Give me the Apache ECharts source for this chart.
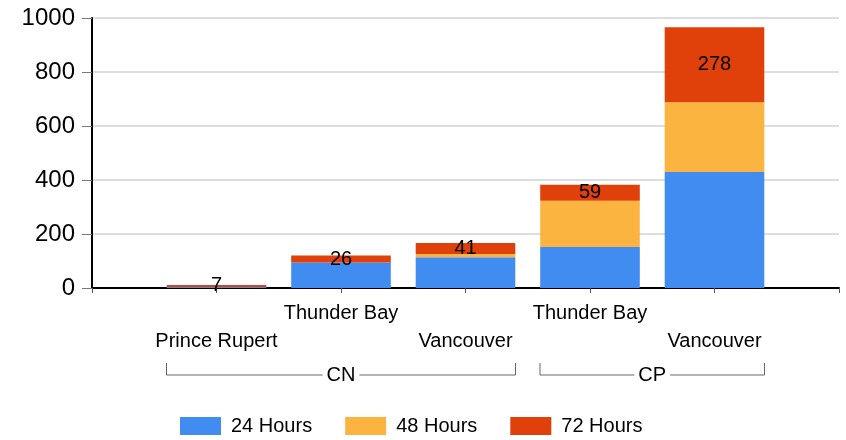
<!DOCTYPE html>
<html>
<head>
<meta charset="utf-8">
<script src="https://cdn.jsdelivr.net/npm/echarts@6/dist/echarts.min.js"></script>
<style>
  html, body { margin: 0; padding: 0; background: #fff; }
  #chart { width: 846px; height: 440px; }
</style>
</head>
<body>
<div id="chart"></div>
<script>
// stations, with the railway each one belongs to
const cities = ['Prince Rupert', 'Thunder Bay', 'Vancouver', 'Thunder Bay', 'Vancouver']
const railways = ['CN', 'CN', 'CN', 'CP', 'CP']
const seriesNames = ['24 Hours', '48 Hours', '72 Hours']
const hours24 = [4, 94, 114, 152, 430]
const hours48 = [0, 0, 12, 171, 258]
const hours72 = [7, 26, 41, 59, 278]
const colors = ['#418CF0', '#FCB441', '#E0400A']

const font = '"Liberation Sans", Arial, sans-serif'
// empty slot on each end so the bars sit on the inner ticks
const categories = [''].concat(cities, [''])
const pad = arr => [null].concat(arr, [null])

const chart = echarts.init(document.getElementById('chart'))

const makeSeries = (name, data, i) => ({
  name: name,
  type: 'bar',
  stack: 'total',
  barWidth: '80%',
  itemStyle: {
    color: colors[i]
  },
  label: {
    show: i === 2,
    position: 'inside',
    color: '#000',
    fontSize: 20,
    fontFamily: font
  },
  data: pad(data)
})

chart.setOption({
  animation: false,
  backgroundColor: '#fff',
  grid: {
    left: 92,
    right: 7,
    top: 18,
    bottom: 152
  },
  legend: {
    left: 180,
    top: 416,
    padding: 0,
    icon: 'rect',
    itemWidth: 41,
    itemHeight: 18,
    itemGap: 33,
    textStyle: {
      fontSize: 20,
      color: '#000',
      fontFamily: font,
      padding: [0, 0, 0, 5]
    },
    data: seriesNames
  },
  xAxis: {
    type: 'category',
    boundaryGap: false,
    data: categories,
    axisLine: {
      lineStyle: { color: '#000', width: 2 }
    },
    axisTick: {
      length: 5,
      lineStyle: { color: '#555' }
    },
    axisLabel: {
      interval: 0,
      margin: 15,
      color: '#000',
      fontSize: 20,
      fontFamily: font,
      formatter: function(value, index) {
        if (!value) {
          return ''
        }
        return index % 2 === 1 ? '{lo|' + value + '}' : '{hi|' + value + '}'
      },
      rich: {
        hi: { fontSize: 20, fontFamily: font, color: '#000' },
        lo: { fontSize: 20, fontFamily: font, color: '#000', padding: [28, 0, 0, 0] }
      }
    },
    splitLine: { show: false }
  },
  yAxis: {
    type: 'value',
    min: 0,
    max: 1000,
    interval: 200,
    axisLine: {
      show: true,
      lineStyle: { color: '#000', width: 2 }
    },
    axisTick: {
      show: true,
      length: 10,
      lineStyle: { color: '#777' }
    },
    axisLabel: {
      margin: 17,
      color: '#000',
      fontSize: 24,
      fontFamily: font,
      formatter: v => String(v)
    },
    splitLine: {
      lineStyle: { color: '#dedede', width: 2 }
    }
  },
  series: [
    makeSeries(seriesNames[0], hours24, 0),
    makeSeries(seriesNames[1], hours48, 1),
    makeSeries(seriesNames[2], hours72, 2)
  ]
})

// brackets under the labels for each railway
const half = 50
const graphics = []
const groups = []
railways.forEach((r, i) => {
  const last = groups[groups.length - 1]
  if (last && last.name === r) {
    last.end = i
  } else {
    groups.push({ name: r, start: i, end: i })
  }
})
groups.forEach(g => {
  const x0 = chart.convertToPixel({ xAxisIndex: 0 }, g.start + 1) - half
  const x1 = chart.convertToPixel({ xAxisIndex: 0 }, g.end + 1) + half
  graphics.push({
    type: 'polyline',
    shape: { points: [[x0, 363], [x0, 375], [x1, 375], [x1, 363]] },
    style: { stroke: '#666', lineWidth: 1, fill: null }
  })
  graphics.push({
    type: 'text',
    x: (x0 + x1) / 2,
    y: 375,
    style: {
      text: g.name,
      fontSize: 20,
      fontFamily: font,
      fill: '#000',
      align: 'center',
      verticalAlign: 'middle',
      backgroundColor: '#fff',
      padding: [0, 4]
    }
  })
})
chart.setOption({ graphic: graphics })
</script>
</body>
</html>
